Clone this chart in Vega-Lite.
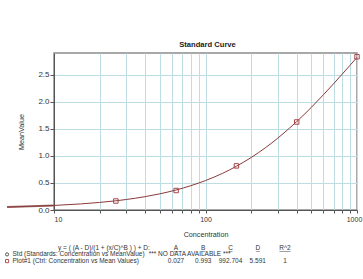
{
  "$schema": "https://vega.github.io/schema/vega-lite/v6.json",
  "background": "white",
  "padding": {"left": 2, "top": 40, "right": 2, "bottom": 5},
  "bounds": "flush",
  "spacing": 37.7,
  "config": {
    "font": "Liberation Sans",
    "view": {"stroke": null},
    "axis": {"labelFontSize": 8, "titleFontSize": 7.2, "titleFontWeight": "normal", "labelColor": "#333", "titleColor": "#333", "domainColor": "#555", "tickColor": "#555", "gridColor": "#bcdde2", "gridOpacity": 1}
  },
  "datasets": {
    "curve": [
      {"conc": 4.9, "value": 0.055}, {"conc": 7, "value": 0.067}, {"conc": 10, "value": 0.084},
      {"conc": 15, "value": 0.112}, {"conc": 20, "value": 0.14}, {"conc": 25.6, "value": 0.17},
      {"conc": 30, "value": 0.194}, {"conc": 40, "value": 0.247}, {"conc": 50, "value": 0.299},
      {"conc": 64, "value": 0.37}, {"conc": 80, "value": 0.449}, {"conc": 100, "value": 0.544},
      {"conc": 130, "value": 0.679}, {"conc": 160, "value": 0.808}, {"conc": 200, "value": 0.969},
      {"conc": 250, "value": 1.155}, {"conc": 300, "value": 1.327}, {"conc": 400, "value": 1.633},
      {"conc": 500, "value": 1.897}, {"conc": 600, "value": 2.128}, {"conc": 700, "value": 2.331},
      {"conc": 800, "value": 2.512}, {"conc": 900, "value": 2.674}, {"conc": 1000, "value": 2.819}
    ],
    "ext": [
      {"conc": 4.9, "value": 0.055}, {"conc": 7, "value": 0.067}, {"conc": 10, "value": 0.084}
    ],
    "points": [
      {"conc": 25.6, "value": 0.166}, {"conc": 64, "value": 0.36}, {"conc": 160, "value": 0.815},
      {"conc": 400, "value": 1.626}, {"conc": 1000, "value": 2.83}
    ],
    "labels": [
      {"row": 1, "col": -5, "text": "Std (Standards: Concentration vs MeanValue)"},
      {"row": 2, "col": -5, "text": "Plot#1 (Ctrl: Concentration vs Mean Values)"}
    ],
    "markers": [
      {"row": 1, "col": -5.2, "series": "Std"},
      {"row": 2, "col": -5.2, "series": "Plot#1"}
    ],
    "eq": [
      {"row": 0, "col": 0, "text": "y = ( (A - D)/(1 + (x/C)^B ) ) + D:"}
    ],
    "cells": [
      {"row": 0, "col": 1, "text": "A"}, {"row": 0, "col": 2, "text": "B"}, {"row": 0, "col": 3, "text": "C"},
      {"row": 0, "col": 4, "text": "D"}, {"row": 0, "col": 5, "text": "R^2"},
      {"row": 1, "col": 1.5, "text": "*** NO DATA AVAILABLE ***"},
      {"row": 2, "col": 1, "text": "0.027"}, {"row": 2, "col": 2, "text": "0.993"}, {"row": 2, "col": 3, "text": "992.704"},
      {"row": 2, "col": 4, "text": "5.591"}, {"row": 2, "col": 5, "text": "1"}
    ],
    "headers": [
      {"row": 0, "col": 1}, {"row": 0, "col": 2}, {"row": 0, "col": 3}, {"row": 0, "col": 4}, {"row": 0, "col": 5}
    ]
  },
  "vconcat": [
    {
      "width": 303,
      "height": 157,
      "title": {"text": "Standard Curve", "fontSize": 7.6, "fontWeight": "bold", "offset": 4, "dx": 2, "color": "#222", "font": "Liberation Sans"},
      "view": {"stroke": "#8c8c8c", "strokeWidth": 1.5},
      "encoding": {
        "x": {"field": "conc", "type": "quantitative",
          "scale": {"type": "log", "domain": [10, 1000], "nice": false},
          "axis": {"title": "Concentration", "values": [10, 20, 30, 40, 50, 60, 70, 80, 90, 100, 200, 300, 400, 500, 600, 700, 800, 900, 1000],
            "labelExpr": "datum.value == 10 || datum.value == 100 || datum.value == 1000 ? datum.label : ''",
            "labelAlign": {"condition": {"test": "datum.value == 10", "value": "left"}, "value": "center"},
            "labelOffset": {"condition": {"test": "datum.value == 1000", "value": -3}, "value": 0},
            "format": "d", "labelFontSize": 7, "tickSize": 3, "labelPadding": 2.5, "titlePadding": 8, "grid": true, "labelFlush": false, "labelOverlap": false}},
        "y": {"field": "value", "type": "quantitative",
          "scale": {"domain": [0, 2.9], "nice": false, "zero": true},
          "axis": {"title": "MeanValue", "values": [0, 0.5, 1, 1.5, 2, 2.5], "tickSize": 4, "labelPadding": 1, "titlePadding": 12, "grid": true}}
      },
      "layer": [
        {"data": {"name": "ext"}, "mark": {"type": "line", "color": "#a07470", "strokeWidth": 2, "clip": false}},
        {"data": {"name": "curve"}, "mark": {"type": "line", "color": "#8b3a3a", "strokeWidth": 1, "clip": false, "interpolate": "monotone"}},
        {"data": {"name": "points"}, "mark": {"type": "point", "shape": "square", "filled": false, "color": "#a8474a", "size": 20, "strokeWidth": 1, "opacity": 1, "clip": false}}
      ]
    },
    {
      "width": 303,
      "height": 14,
      "view": {"stroke": null},
      "encoding": {
        "x": {"field": "col", "type": "quantitative", "scale": {"domain": [1, 5], "range": [122, 231], "nice": false, "zero": false}, "axis": null},
        "y": {"field": "row", "type": "quantitative", "scale": {"domain": [0, 2], "range": [0, 13.4], "nice": false, "zero": false}, "axis": null}
      },
      "layer": [
        {"data": {"name": "markers"}, "mark": {"type": "point", "size": 10, "strokeWidth": 1, "filled": false, "opacity": 1, "clip": false},
          "encoding": {
            "shape": {"field": "series", "type": "nominal", "scale": {"domain": ["Std", "Plot#1"], "range": ["circle", "square"]}, "legend": null},
            "color": {"field": "series", "type": "nominal", "scale": {"domain": ["Std", "Plot#1"], "range": ["#555555", "#b05050"]}, "legend": null}
          }},
        {"data": {"name": "labels"}, "mark": {"type": "text", "align": "left", "baseline": "middle", "fontSize": 6.5, "color": "#333", "clip": false},
          "encoding": {"text": {"field": "text"}}},
        {"data": {"name": "eq"}, "mark": {"type": "text", "align": "right", "baseline": "middle", "fontSize": 6.5, "color": "#333", "clip": false, "dx": 1},
          "encoding": {"text": {"field": "text"}}},
        {"data": {"name": "cells"}, "mark": {"type": "text", "align": "center", "baseline": "middle", "fontSize": 6.5, "color": "#333", "clip": false},
          "encoding": {"text": {"field": "text"}}},
        {"data": {"name": "headers"}, "mark": {"type": "text", "align": "center", "baseline": "middle", "fontSize": 6.5, "color": "#333", "clip": false, "dy": 0.5},
          "encoding": {"text": {"condition": {"test": "datum.col == 5", "value": "___"}, "value": "_"}}}
      ]
    }
  ]
}
